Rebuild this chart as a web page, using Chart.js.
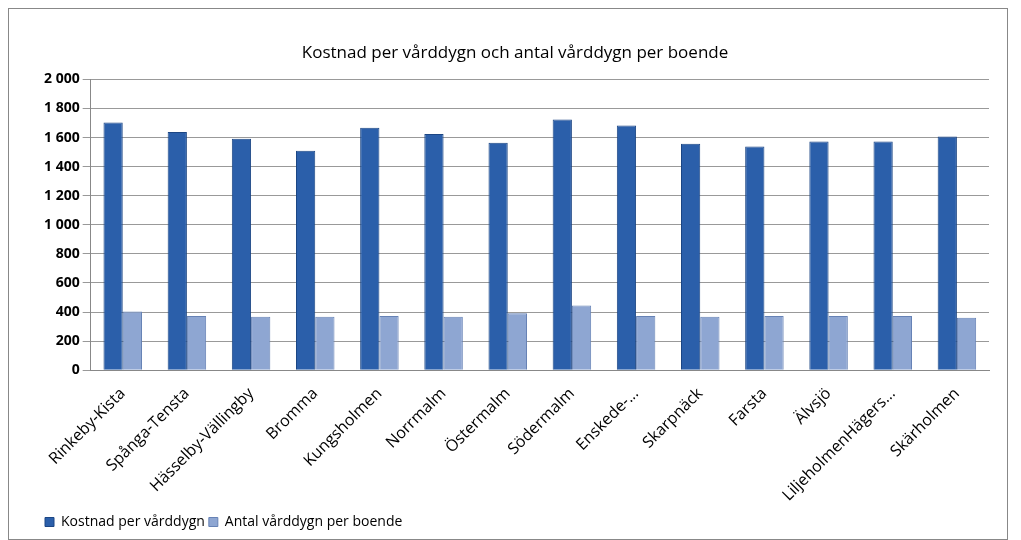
<!DOCTYPE html>
<html><head><meta charset="utf-8">
<script src="https://cdn.jsdelivr.net/npm/chart.js@4"></script>
<style>
body{margin:0;background:#fff;}
#wrap{position:absolute;left:8px;top:8px;width:1000px;height:532px;border:1px solid #888;box-sizing:border-box;}
</style></head><body>
<div id="wrap"><canvas id="c"></canvas></div>
<script>
const categories=["Rinkeby-Kista","Spånga-Tensta","Hässelby-Vällingby","Bromma","Kungsholmen","Norrmalm","Östermalm","Södermalm","Enskede-...","Skarpnäck","Farsta","Älvsjö","LiljeholmenHägers...","Skärholmen"];
const kostnad=[1704,1639,1592,1510,1667,1625,1564,1725,1683,1557,1538,1573,1573,1608];
const antal=[403,373,368,368,373,368,392,445,373,368,373,373,373,361];
const yTicks=[0,200,400,600,800,1000,1200,1400,1600,1800,2000];

new Chart(document.getElementById('c'),{
 type:'bar',
 data:{labels:categories,datasets:[
  {label:'Kostnad per vårddygn',data:kostnad,backgroundColor:'#2b5faa',borderColor:'#1c4684',borderWidth:1,barPercentage:1,categoryPercentage:0.6},
  {label:'Antal vårddygn per boende',data:antal,backgroundColor:'#8ea6d2',borderColor:'#6682b5',borderWidth:1,barPercentage:1,categoryPercentage:0.6}
 ]},
 options:{responsive:true,maintainAspectRatio:false,animation:false,
  layout:{padding:{left:32,right:18,top:0,bottom:0}},
  plugins:{title:{display:true,text:'Kostnad per vårddygn och antal vårddygn per boende',font:{family:'Open Sans',size:17,weight:'normal'},color:'#000',padding:{top:34,bottom:16}},
   legend:{position:'bottom',align:'start',labels:{boxWidth:9,boxHeight:9,font:{family:'Open Sans',size:14},color:'#000',padding:4}},
   tooltip:{enabled:false}},
  scales:{
   x:{grid:{display:false},border:{color:'#888'},ticks:{maxRotation:45,minRotation:45,autoSkip:false,padding:6,font:{family:'Open Sans',size:16},color:'#000'}},
   y:{min:0,max:2000,afterBuildTicks:(s)=>{s.ticks=yTicks.map(v=>({value:v}));},
      grid:{color:'#999'},border:{color:'#888'},
      ticks:{font:{family:'Open Sans',size:14,weight:'bold'},color:'#000',callback:v=>v>=1000?String(v).replace(/(\d)(\d{3})$/,'$1 $2'):v}}
  }}
});
</script>
</body></html>
